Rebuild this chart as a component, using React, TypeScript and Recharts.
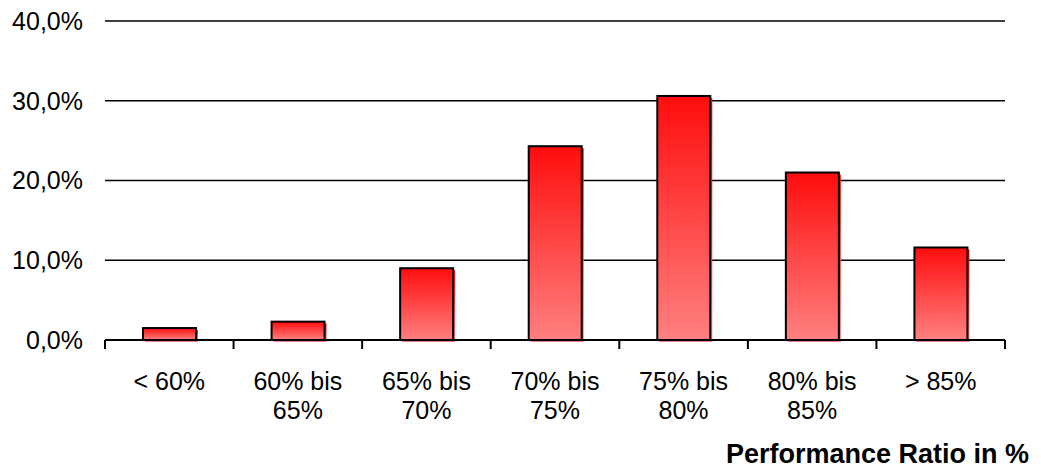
import React from 'react';
import { BarChart, Bar, XAxis, YAxis, CartesianGrid } from 'recharts';

const categories = ['< 60%', '60% bis|65%', '65% bis|70%', '70% bis|75%', '75% bis|80%', '80% bis|85%', '> 85%'];
const shares = [1.5, 2.3, 9.0, 24.3, 30.6, 21.0, 11.6];
const yTicks = [0, 10, 20, 30, 40];

const data = categories.map((c, i) => ({ cat: c, value: shares[i] }));

const FONT = '"Liberation Sans", Arial, sans-serif';

// 30 → "30,0%"
function pct(v: number): string {
  return v.toFixed(1).replace('.', ',') + '%';
}

// label under the category centre, tick marks on the category borders
function CatTick({ x, y, payload, index, visibleTicksCount }: any) {
  const half = payload.offset || 0;
  const lines = String(payload.value).split('|');
  const last = index === visibleTicksCount - 1;
  return (
    <g>
      <line x1={x - half} x2={x - half} y1={y} y2={y + 9} stroke="#000" strokeWidth={2} />
      {last && <line x1={x + half} x2={x + half} y1={y} y2={y + 9} stroke="#000" strokeWidth={2} />}
      <text x={x} y={y} textAnchor="middle" fontFamily={FONT} fontSize={25} fill="#000">
        {lines.map((l, i) => (
          <tspan key={i} x={x} dy={i === 0 ? 50 : 29}>
            {l}
          </tspan>
        ))}
      </text>
    </g>
  );
}

function ShadowBar({ x, y, width, height }: any) {
  if (!height || height <= 0) return null;
  return (
    <g>
      <rect x={x + 2} y={y + 2} width={width} height={height} fill="url(#barFill)" />
      <rect x={x} y={y} width={width} height={height} fill="url(#barFill)" stroke="#000" strokeWidth={2} />
    </g>
  );
}

export default function App() {
  return (
    <div style={{ position: 'absolute', left: 0, top: 0, width: 1041, height: 468, background: '#fff' }}>
      <BarChart
        width={1041}
        height={468}
        data={data}
        margin={{ top: 21, right: 36, left: 0, bottom: 0 }}
        barSize={53}
      >
        <defs>
          <linearGradient id="barFill" x1="0" y1="0" x2="0" y2="1">
            <stop offset="0%" stopColor="#ff0d0d" />
            <stop offset="100%" stopColor="#ff8080" />
          </linearGradient>
        </defs>
        <CartesianGrid vertical={false} stroke="#000" strokeWidth={1.5} horizontalValues={[10, 20, 30, 40]} />
        <XAxis
          dataKey="cat"
          interval={0}
          axisLine={{ stroke: '#000', strokeWidth: 2 }}
          tickLine={false}
          tickSize={0}
          tickMargin={0}
          tick={<CatTick />}
          height={128}
        />
        <YAxis
          domain={[0, 40]}
          ticks={yTicks}
          tickFormatter={pct}
          axisLine={false}
          tickLine={false}
          tickMargin={16}
          width={105}
          tick={{ fill: '#000', fontSize: 25, fontFamily: FONT }}
        />
        <Bar dataKey="value" shape={<ShadowBar />} isAnimationActive={false} />
        <text x={1029} y={463} textAnchor="end" fontFamily={FONT} fontSize={27} fontWeight="bold" fill="#000">
          Performance Ratio in %
        </text>
      </BarChart>
    </div>
  );
}
